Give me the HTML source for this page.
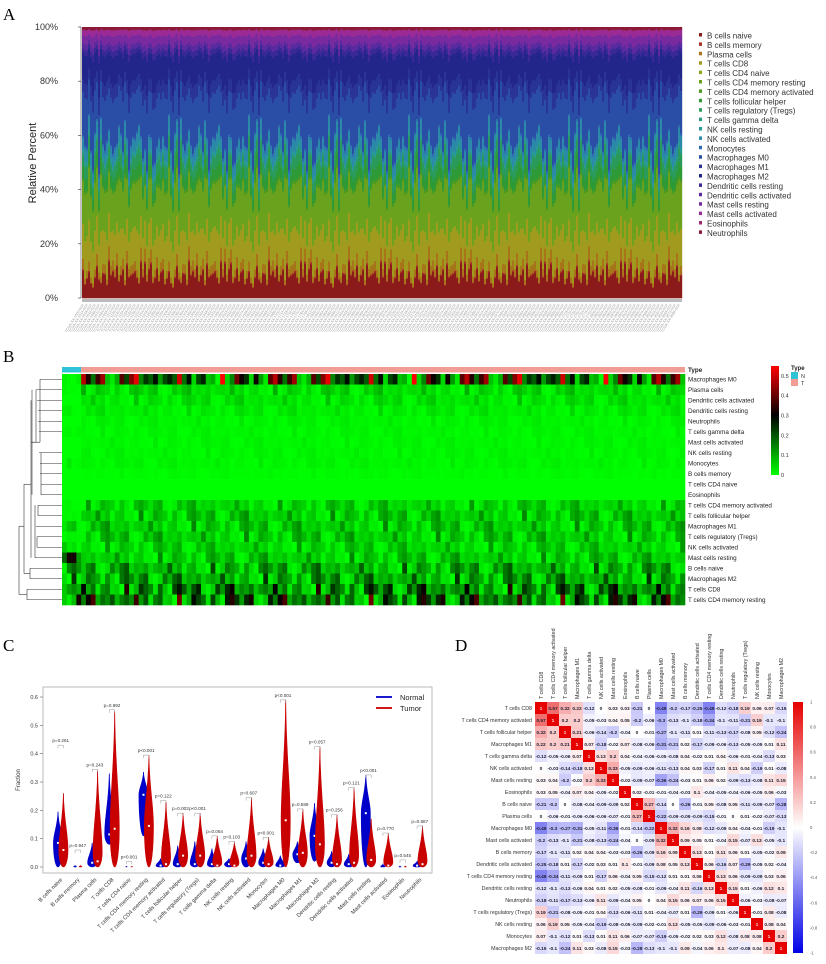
<!DOCTYPE html>
<html><head><meta charset="utf-8"><style>
body{margin:0;background:#fff}
svg{display:block;font-family:"Liberation Sans",sans-serif}
</style></head><body>
<svg id="fig" width="826" height="964" viewBox="0 0 826 964" xmlns="http://www.w3.org/2000/svg">
<text x="3" y="20" font-family="Liberation Serif" font-size="17">A</text>
<text x="3" y="362" font-family="Liberation Serif" font-size="17">B</text>
<text x="3" y="651" font-family="Liberation Serif" font-size="17">C</text>
<text x="455" y="651" font-family="Liberation Serif" font-size="17">D</text>
<g id="pa"></g>
<g id="pb"></g>
<g id="pc"></g>
<g id="pd"></g>
</svg>
<script>
const NS="http://www.w3.org/2000/svg";
function mk(p,t,a,txt){const e=document.createElementNS(NS,t);for(const k in a)e.setAttribute(k,a[k]);if(txt!==undefined)e.textContent=txt;p.appendChild(e);return e;}

// ---------- Panel A data ----------
const cellTypes=["B cells naive","B cells memory","Plasma cells","T cells CD8","T cells CD4 naive","T cells CD4 memory resting","T cells CD4 memory activated","T cells follicular helper","T cells regulatory (Tregs)","T cells gamma delta","NK cells resting","NK cells activated","Monocytes","Macrophages M0","Macrophages M1","Macrophages M2","Dendritic cells resting","Dendritic cells activated","Mast cells resting","Mast cells activated","Eosinophils","Neutrophils"];
const cellColors=["#8b1a1a","#a8322a","#a8741a","#a09a1e","#8aa81e","#6aa21e","#4a9a22","#2e9a36","#2a9a5a","#2a9a7e","#2a9a98","#2a8aa8","#2f6eb2","#2a4ea6","#2a3496","#22268a","#3a2896","#5a2a9e","#782a9e","#9a2a96","#a02a70","#8b1a3a"];
const meanFrac=[0.08,0.005,0.03,0.12,0.002,0.15,0.01,0.04,0.04,0.01,0.01,0.04,0.01,0.17,0.05,0.10,0.02,0.02,0.03,0.02,0.002,0.01];
const lowShift=[1.2,0.6,1.0,1.4,0.8,0.5,1.1,1.6,0.9,0.7,1.3,1.0,0.6,1.5,0.8,1.2,0.9,1.7,0.7,1.0,1.4,0.5,1.1,0.9,1.3,0.8,1.6,1.0,0.7,1.2,0.9,1.5,0.6,1.1,1.3,0.8,1.0,1.4,0.7,1.2];
const midShift=[1.0,1.3,0.8,1.1,1.4,0.9,1.2,0.7,1.0,1.5,0.9,1.1,1.3,0.8,1.2,1.0,0.7,1.1,1.4,0.9,1.0,1.3,0.8,1.2,0.9,1.1,0.7,1.4,1.0,0.8,1.2,1.0,1.3,0.9,1.1,0.8,1.2,1.0,1.4,0.9];
const highShift=[0.9,1.2,1.1,0.7,1.0,1.4,0.8,1.0,1.3,0.9,1.1,0.8,1.3,0.9,1.2,0.7,1.4,1.0,0.8,1.1,1.2,0.9,1.3,0.8,1.0,1.1,0.9,0.7,1.3,1.0,1.2,0.8,1.0,1.1,0.7,1.3,0.9,1.0,0.8,1.2];
const nBars=300;

(function(){
 const g=document.getElementById('pa');
 const x0=82,x1=682,yT=27,yB=298;
 const yA=v=>yB-v*(yB-yT);
 const bw=(x1-x0)/nBars;
 for(let i=0;i<nBars;i++){
  const a=lowShift[i%40],b=midShift[(i*3)%40],c=highShift[(i*7)%40];
  const f=meanFrac.map((m,k)=>m*(k<3?a:(k<12?b:c)));
  const s=f.reduce((p,q)=>p+q,0);
  let acc=0;
  f.forEach((v,k)=>{const h=v/s;const r=mk(g,'rect',{x:(x0+i*bw).toFixed(2),y:yA(acc+h).toFixed(2),width:(bw+0.2).toFixed(2),height:(h*(yB-yT)+0.3).toFixed(2),fill:cellColors[k]});
   
   
   acc+=h;});
 }
 mk(g,'line',{x1:x0-1,y1:yT,x2:x0-1,y2:yB,stroke:'#333','stroke-width':0.6});
 ["0%","20%","40%","60%","80%","100%"].forEach((t,i)=>{const y=yA(i/5);
  const e=mk(g,'text',{x:58,y:y+3,'font-size':9,'text-anchor':'end',fill:'#333'},t);
  
  mk(g,'line',{x1:x0-4,y1:y,x2:x0-1,y2:y,stroke:'#333','stroke-width':0.6});});
 const yt=mk(g,'text',{x:36,y:163,'font-size':11,'text-anchor':'middle',transform:'rotate(-90 36 163)',fill:'#222'},'Relative Percent');
 
 mk(g,'rect',{x:x0,y:299,width:x1-x0,height:3,fill:'#bbb'});
 for(let i=0;i<nBars;i+=2){const x=x0+i*bw+bw;
  const e=mk(g,'text',{x:x,y:305,'font-size':3.6,'text-anchor':'end',fill:'#999',transform:`rotate(-58 ${x} 305)`},'TCGA-XX-'+(1000+i*7)+'-01A');
  }
 cellTypes.forEach((n,k)=>{const y=36+k*9.4;
  const l=mk(g,'g',{});
  mk(l,'rect',{x:699,y:y-3,width:3,height:3.5,fill:cellColors[k]});
  mk(l,'text',{x:707,y:y+2.5,'font-size':8,fill:'#333'},n);});
})();

// ---------- Panel B data ----------
const hmRows=["Macrophages M0","Plasma cells","Dendritic cells activated","Dendritic cells resting","Neutrophils","T cells gamma delta","Mast cells activated","NK cells resting","Monocytes","B cells memory","T cells CD4 naive","Eosinophils","T cells CD4 memory activated","T cells follicular helper","Macrophages M1","T cells regulatory (Tregs)","NK cells activated","Mast cells resting","B cells naive","Macrophages M2","T cells CD8","T cells CD4 memory resting"];
const hmRowMean=[0.24,0.04,0.03,0.02,0.012,0.01,0.01,0.01,0.01,0.005,0.0,0.0,0.05,0.06,0.06,0.06,0.05,0.06,0.09,0.10,0.14,0.17];
const hmNormalMean=[0.01,0.01,0.0,0.01,0.0,0.01,0.0,0.0,0.01,0.0,0.0,0.0,0.01,0.01,0.04,0.01,0.03,0.2,0.09,0.1,0.12,0.2];
const hmColVar=[1.3,0.2,1.8,0.5,0.9,2.2,0.1,1.1,0.6,1.6,0.3,1.0,2.0,0.4,0.8,1.4,0.0,1.2,0.7,2.4,0.5,1.5,0.2,0.9,1.9,0.6,1.1,0.3,1.7,0.8,0.1,1.3,2.1,0.4,1.0,0.7,1.6,0.2,1.2,0.9];
const nCols=130,nNormal=4;
const hmTicks=[0,0.1,0.2,0.3,0.4,0.5];

(function(){
 const g=document.getElementById('pb');
 const x0=62,x1=685,y0=374,rh=10.5;
 const cw=(x1-x0)/nCols;
 function col(v){v=Math.max(0,Math.min(0.55,v));
  if(v<0.3){const t=v/0.3;return `rgb(0,${Math.round(255*(1-t))},0)`;}
  const t=(v-0.3)/0.25;return `rgb(${Math.round(255*t)},0,0)`;}
 mk(g,'rect',{x:x0,y:367,width:nNormal*cw,height:5.5,fill:'#2ec4d6'});
 mk(g,'rect',{x:x0+nNormal*cw,y:367,width:x1-x0-nNormal*cw,height:5.5,fill:'#f29c96'});
 hmRows.forEach((n,r)=>{
  for(let c=0;c<nCols;c++){
   const normal=c<nNormal;
   const base=normal?hmNormalMean[r]:hmRowMean[r];
   let v=base*hmColVar[(c*3+r*7)%40];
   if(normal)v=Math.min(v,0.32);
   const e=mk(g,'rect',{x:(x0+c*cw).toFixed(2),y:(y0+r*rh).toFixed(2),width:(cw+0.3).toFixed(2),height:rh+0.3,fill:col(v)});
   }
  const t=mk(g,'text',{x:688,y:y0+r*rh+7.5,'font-size':6.3,fill:'#222'},n);
  });
 const tl=mk(g,'text',{x:688,y:372,'font-size':6.3,'font-weight':'bold',fill:'#222'},'Type');
 
 const d=mk(g,'g',{stroke:'#333','stroke-width':0.6,fill:'none'});
 
 const cy=r=>y0+r*rh+rh/2;
 const segs=[[62,cy(0),40,cy(0)],[40,cy(0),40,(cy(1)+cy(11))/2],
  [62,cy(1),36,cy(1)],[36,cy(1),36,cy(6)],[62,cy(2),37,cy(2)],[62,cy(3),38,cy(3)],[62,cy(4),38,cy(4)],[62,cy(5),39,cy(5)],[62,cy(7),39,cy(7)],[62,cy(8),40,cy(8)],[62,cy(9),40,cy(9)],[62,cy(10),41,cy(10)],[62,cy(11),41,cy(11)],[41,cy(7),41,cy(11)],[36,cy(6),32,cy(6)],[32,cy(1),32,cy(11)],
  [40,(cy(1)+cy(11))/2,31,(cy(1)+cy(11))/2],[31,cy(2),31,cy(17)],
  [62,cy(12),38,cy(12)],[62,cy(13),38,cy(13)],[38,cy(12),38,cy(13)],[62,cy(14),36,cy(14)],[62,cy(15),37,cy(15)],[62,cy(16),37,cy(16)],[37,cy(15),37,cy(16)],[62,cy(17),35,cy(17)],[35,cy(12),35,cy(17)],
  [62,cy(18),30,cy(18)],[62,cy(19),30,cy(19)],[30,cy(18),30,cy(19)],[31,cy(10),24,cy(10)],[30,cy(18.5),24,cy(18.5)],[24,cy(10),24,cy(18.5)],
  [62,cy(20),27,cy(20)],[62,cy(21),27,cy(21)],[27,cy(20),27,cy(21)],[24,cy(14),19,cy(14)],[27,cy(20.5),19,cy(20.5)],[19,cy(14),19,cy(20.5)]];
 segs.forEach(s=>mk(d,'line',{x1:s[0],y1:s[1],x2:s[2],y2:s[3]}));
 const gr=mk(g,'defs',{});const lg=mk(gr,'linearGradient',{id:'hmg',x1:0,y1:1,x2:0,y2:0});
 [[0,'#00ff00'],[0.545,'#000'],[1,'#ff0000']].forEach(s=>mk(lg,'stop',{offset:s[0],'stop-color':s[1]}));
 const cb=mk(g,'rect',{x:771,y:366,width:8,height:109,fill:'url(#hmg)'});
 
 hmTicks.forEach(t=>{const y=475-t/0.55*109;const e=mk(g,'text',{x:781,y:y+2,'font-size':5.5,fill:'#333'},String(t));
  });
 const lt=mk(g,'text',{x:791,y:370,'font-size':6,'font-weight':'bold',fill:'#222'},'Type');
 
 mk(g,'rect',{x:791,y:372,width:7,height:7,fill:'#2ec4d6'});mk(g,'rect',{x:791,y:379,width:7,height:7,fill:'#f29c96'});
 mk(g,'text',{x:801,y:378,'font-size':5.5,fill:'#333'},'N');mk(g,'text',{x:801,y:385,'font-size':5.5,fill:'#333'},'T');
})();

// ---------- Panel C data ----------
const vCats=["B cells naive","B cells memory","Plasma cells","T cells CD8","T cells CD4 naive","T cells CD4 memory resting","T cells CD4 memory activated","T cells follicular helper","T cells regulatory (Tregs)","T cells gamma delta","NK cells resting","NK cells activated","Monocytes","Macrophages M0","Macrophages M1","Macrophages M2","Dendritic cells resting","Dendritic cells activated","Mast cells resting","Mast cells activated","Eosinophils","Neutrophils"];
const normalTop=[0.195,0.005,0.085,0.33,0.002,0.335,0.03,0.075,0.09,0.065,0.03,0.09,0.065,0.04,0.09,0.225,0.055,0.045,0.325,0.01,0.003,0.02];
const normalMed=[0.085,0.0,0.015,0.115,0.0,0.255,0.005,0.01,0.01,0.01,0.01,0.03,0.015,0.005,0.045,0.11,0.015,0.01,0.19,0.0,0.0,0.005];
const normalBot=[0,0,0,0.08,0,0.11,0,0,0,0,0,0,0,0,0.015,0.02,0,0,0,0,0,0];
const tumorTop=[0.26,0.005,0.34,0.55,0.002,0.395,0.23,0.19,0.19,0.11,0.09,0.245,0.105,0.59,0.205,0.425,0.185,0.28,0.17,0.12,0.003,0.145];
const tumorMed=[0.06,0.0,0.02,0.135,0.0,0.145,0.01,0.04,0.04,0.005,0.005,0.04,0.01,0.165,0.05,0.08,0.01,0.015,0.025,0.005,0.0,0.01];
const bracketTop=[0.43,0.06,0.345,0.555,0.02,0.395,0.235,0.19,0.19,0.11,0.09,0.245,0.105,0.59,0.205,0.425,0.185,0.28,0.325,0.12,0.025,0.145];
const pLabels=["p=0.261","p=0.947","p=0.243","p=0.892","p<0.001","p<0.001","p=0.122","p=0.002","p<0.001","p=0.064","p=0.103","p=0.607","p<0.001","p<0.001","p=0.589","p=0.057","p=0.256","p=0.121","p<0.001","p=0.770","p=0.545","p=0.887"];
const cTicks=[0,0.1,0.2,0.3,0.4,0.5,0.6];

(function(){
 const g=document.getElementById('pc');
 const bx0=43,bx1=432,by0=687,by1=873;
 const yv=v=>867-v*283.3;
 const xc=i=>60.7+i*17.1;
 mk(g,'rect',{x:bx0,y:by0,width:bx1-bx0,height:by1-by0,fill:'none',stroke:'#aaa','stroke-width':0.8});
 cTicks.forEach(t=>{const y=yv(t);mk(g,'line',{x1:bx0-3,y1:y,x2:bx0,y2:y,stroke:'#666','stroke-width':0.6});
  const e=mk(g,'text',{x:bx0-5,y:y+2,'font-size':5.5,'text-anchor':'end',fill:'#333'},t.toFixed(1));
  });
 const yt=mk(g,'text',{x:20,y:780,'font-size':6,'text-anchor':'middle',transform:'rotate(-90 20 780)',fill:'#333'},'Fraction');
 
 function vio(cx,bot,med,top,hw,color,nm){
  const yT=yv(top),yM=yv(med),yB=yv(bot);const span=yB-yT;
  const hwe=Math.max(0.6,Math.min(hw,span*0.6+0.6));
  const yW=Math.max(yT+span*0.35,Math.min(yM,yB-span*0.15));
  const d=`M${cx},${yT} C${cx+hwe*0.15},${yT+(yW-yT)*0.5} ${cx+hwe},${yW-(yW-yT)*0.3} ${cx+hwe},${yW} C${cx+hwe},${yW+(yB-yW)*0.6} ${cx+hwe*0.5},${yB} ${cx},${yB} C${cx-hwe*0.5},${yB} ${cx-hwe},${yW+(yB-yW)*0.6} ${cx-hwe},${yW} C${cx-hwe},${yW-(yW-yT)*0.3} ${cx-hwe*0.15},${yT+(yW-yT)*0.5} ${cx},${yT}Z`;
  const p=mk(g,'path',{d:d,fill:color,stroke:color,'stroke-width':0.6});
  
  mk(g,'line',{x1:cx,y1:yT,x2:cx,y2:yB,stroke:color,'stroke-width':0.7});
  if(top>0.01)mk(g,'rect',{x:cx-1,y:yv(med)-1,width:2,height:2,fill:'#fff'});
 }
 vCats.forEach((n,i)=>{
  const cx=xc(i);
  vio(cx-2.7,normalBot[i],normalMed[i],normalTop[i],4.6,'#0000c8','violin-normal');
  vio(cx+2.7,0,tumorMed[i],tumorTop[i],4.6,'#c80000','violin-tumor');
  const yb=yv(bracketTop[i]);
  mk(g,'polyline',{points:`${cx-2.7},${yb+3} ${cx-2.7},${yb} ${cx+2.7},${yb} ${cx+2.7},${yb+3}`,fill:'none',stroke:'#999','stroke-width':0.5});
  const pt=mk(g,'text',{x:cx,y:yb-3,'font-size':4.6,'text-anchor':'middle',fill:'#333'},pLabels[i]);
  
  const xl=mk(g,'text',{x:cx+2,y:880,'font-size':5.6,'text-anchor':'end',fill:'#333',transform:`rotate(-45 ${cx+2} 880)`},n);
  
 });
 const lg=mk(g,'g',{});
 mk(lg,'line',{x1:376,y1:697,x2:392,y2:697,stroke:'#0000c8','stroke-width':1.8});
 mk(lg,'line',{x1:376,y1:708,x2:392,y2:708,stroke:'#c80000','stroke-width':1.8});
 mk(lg,'text',{x:400,y:700,'font-size':7.5,fill:'#222'},'Normal');
 mk(lg,'text',{x:400,y:711,'font-size':7.5,fill:'#222'},'Tumor');
})();

// ---------- Panel D data ----------
const corNames=["T cells CD8","T cells CD4 memory activated","T cells follicular helper","Macrophages M1","T cells gamma delta","NK cells activated","Mast cells resting","Eosinophils","B cells naive","Plasma cells","Macrophages M0","Mast cells activated","B cells memory","Dendritic cells activated","T cells CD4 memory resting","Dendritic cells resting","Neutrophils","T cells regulatory (Tregs)","NK cells resting","Monocytes","Macrophages M2"];
const corR0=[1,0.57,0.32,0.22,-0.12,0,0.03,0.03,-0.21,0,-0.49,-0.2,-0.17,-0.25,-0.49,-0.12,-0.18,0.19,0.06,0.07,-0.15];
const corR1=[0.57,1,0.2,0.2,-0.05,-0.03,0.04,0.05,-0.2,-0.06,-0.3,-0.13,-0.1,-0.18,-0.34,-0.1,-0.11,-0.21,0.19,-0.1,-0.1];
const corR2=[0.32,0.2,1,0.21,-0.06,-0.14,-0.2,-0.04,0,-0.01,-0.27,-0.1,-0.11,0.01,-0.11,-0.13,-0.17,-0.08,0.05,-0.12,-0.24];
const corR3=[0.22,0.2,0.21,1,0.07,-0.18,-0.02,0.07,-0.08,-0.06,-0.31,-0.21,0.02,-0.17,-0.09,-0.06,-0.13,-0.05,-0.05,0.01,0.11];
const corR4=[-0.12,-0.05,-0.06,0.07,1,0.13,0.2,0.04,-0.04,-0.06,-0.05,-0.08,0.04,-0.02,0.01,0.04,-0.06,-0.01,-0.04,-0.13,0.03];
const corR5=[0,-0.03,-0.14,-0.18,0.13,1,0.33,-0.05,-0.09,-0.06,-0.11,-0.13,0.04,0.03,-0.17,0.01,0.11,0.04,-0.19,0.01,-0.08];
const corR6=[0.03,0.04,-0.2,-0.02,0.2,0.33,1,-0.02,-0.09,-0.07,-0.36,-0.24,-0.03,0.01,0.06,0.02,-0.09,-0.13,-0.08,0.11,0.15];
const corR7=[0.03,0.05,-0.04,0.07,0.04,-0.05,-0.02,1,0.02,-0.01,-0.01,-0.04,-0.03,0.1,-0.04,-0.05,-0.04,-0.06,-0.05,0.06,-0.03];
const corR8=[-0.21,-0.2,0,-0.08,-0.04,-0.09,-0.09,0.02,1,0.27,-0.14,0,-0.26,-0.01,0.05,-0.08,0.05,-0.11,-0.09,-0.07,-0.28];
const corR9=[0,-0.06,-0.01,-0.06,-0.06,-0.06,-0.07,-0.01,0.27,1,-0.22,-0.09,-0.09,-0.09,-0.15,-0.01,0,0.01,-0.02,-0.07,-0.13];
const corR10=[-0.49,-0.3,-0.27,-0.31,-0.05,-0.11,-0.36,-0.01,-0.14,-0.22,1,0.32,0.16,0.08,-0.12,-0.09,0.04,-0.04,-0.01,-0.19,-0.1];
const corR11=[-0.2,-0.13,-0.1,-0.21,-0.08,-0.13,-0.24,-0.04,0,-0.09,0.32,1,0.09,0.05,0.01,-0.04,0.15,-0.07,0.13,-0.05,-0.1];
const corR12=[-0.17,-0.1,-0.11,0.02,0.04,0.04,-0.03,-0.03,-0.26,-0.09,0.16,0.09,1,0.13,0.01,0.11,0.06,0.01,-0.05,-0.02,0.09];
const corR13=[-0.25,-0.18,0.01,-0.17,-0.02,0.03,0.01,0.1,-0.01,-0.09,0.08,0.05,0.13,1,0.06,-0.16,0.07,-0.29,-0.05,0.02,-0.04];
const corR14=[-0.49,-0.34,-0.11,-0.09,0.01,-0.17,0.06,-0.04,0.05,-0.15,-0.12,0.01,0.01,0.06,1,0.13,0.06,-0.09,-0.09,0.03,0.06];
const corR15=[-0.12,-0.1,-0.13,-0.06,0.04,0.01,0.02,-0.05,-0.08,-0.01,-0.09,-0.04,0.11,-0.16,0.13,1,0.15,0.01,-0.06,0.12,0.1];
const corR16=[-0.18,-0.11,-0.17,-0.13,-0.06,0.11,-0.09,-0.04,0.05,0,0.04,0.15,0.06,0.07,0.06,0.15,1,-0.06,-0.03,-0.08,-0.07];
const corR17=[0.19,-0.21,-0.08,-0.05,-0.01,0.04,-0.13,-0.06,-0.11,0.01,-0.04,-0.07,0.01,-0.29,-0.09,0.01,-0.06,1,-0.01,0.08,-0.08];
const corR18=[0.06,0.19,0.05,-0.05,-0.04,-0.19,-0.08,-0.05,-0.09,-0.02,-0.01,0.13,-0.05,-0.05,-0.09,-0.06,-0.03,-0.01,1,0.08,0.04];
const corR19=[0.07,-0.1,-0.12,0.01,-0.13,0.01,0.11,0.06,-0.07,-0.07,-0.19,-0.05,-0.02,0.02,0.03,0.12,-0.08,0.08,0.08,1,0.2];
const corR20=[-0.15,-0.1,-0.24,0.11,0.03,-0.08,0.15,-0.03,-0.28,-0.13,-0.1,-0.1,0.09,-0.04,0.06,0.1,-0.07,-0.08,0.04,0.2,1];
const corRows=[corR0,corR1,corR2,corR3,corR4,corR5,corR6,corR7,corR8,corR9,corR10,corR11,corR12,corR13,corR14,corR15,corR16,corR17,corR18,corR19,corR20];
const corTicks=[1,0.8,0.6,0.4,0.2,0,-0.2,-0.4,-0.6,-0.8,-1];

(function(){
 const g=document.getElementById('pd');
 const x0=535,y0=702,cs=12;
 function col(v){const t=Math.min(1,Math.abs(v));
  if(v>=0)return `rgb(${Math.round(255-25*t)},${Math.round(255*(1-t))},${Math.round(255*(1-t))})`;
  return `rgb(${Math.round(255*(1-t))},${Math.round(255*(1-t))},${Math.round(255-25*t)})`;}
 corRows.forEach((row,r)=>{
  row.forEach((v,c)=>{
   const e=mk(g,'rect',{x:x0+c*cs,y:y0+r*cs,width:cs,height:cs,fill:col(v)});
   
   const t=mk(g,'text',{x:x0+c*cs+cs/2,y:y0+r*cs+cs/2+1.8,'font-size':4.8,'font-weight':'bold','text-anchor':'middle',fill:v===1?'#fdd':'#223'},String(v));
   
  });
  const rl=mk(g,'text',{x:x0-3,y:y0+r*cs+cs/2+2,'font-size':5.3,'text-anchor':'end',fill:'#333'},corNames[r]);
  
  const cx=x0+r*cs+cs/2+2;
  const cl=mk(g,'text',{x:cx,y:y0-3,'font-size':5.3,fill:'#333',transform:`rotate(-90 ${cx} ${y0-3})`},corNames[r]);
  
 });
 const df=mk(g,'defs',{});const lg=mk(df,'linearGradient',{id:'cg',x1:0,y1:0,x2:0,y2:1});
 [[0,'#e60000'],[0.5,'#ffffff'],[1,'#0000e6']].forEach(s=>mk(lg,'stop',{offset:s[0],'stop-color':s[1]}));
 const cb=mk(g,'rect',{x:793,y:702,width:10,height:251,fill:'url(#cg)'});
 
 corTicks.forEach(t=>{const y=702+(1-t)/2*251;const e=mk(g,'text',{x:810,y:y+1.5,'font-size':4.2,fill:'#555'},String(t));
  });
})();
</script>
</body></html>
